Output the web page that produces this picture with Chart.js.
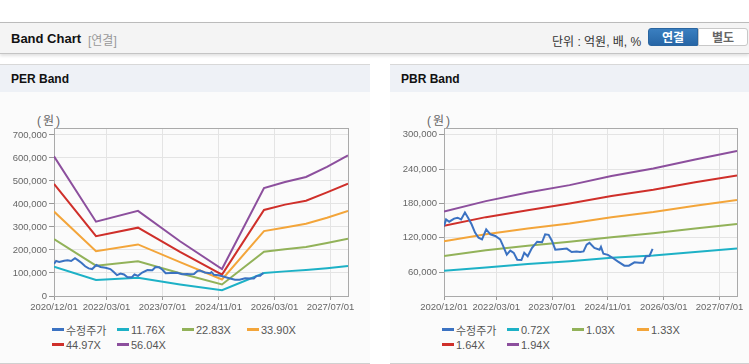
<!DOCTYPE html>
<html>
<head>
<meta charset="utf-8">
<script src="https://cdn.jsdelivr.net/npm/chart.js@4"></script>
<style>
  body { margin: 0; width: 749px; height: 364px; background: #fff; position: relative; overflow: hidden;
         font-family: "Liberation Sans", "Noto Sans CJK KR", sans-serif; }
  .topbar { position: absolute; left: 0; top: 22px; width: 749px; height: 30px; background: #f4f4f4;
            border-top: 1px solid #bbb; border-bottom: 1px solid #c4c4c4; box-shadow: 0 2px 3px rgba(0,0,0,0.12); }
  .topbar .title { position: absolute; left: 11px; top: 8px; font-size: 13px; font-weight: bold; color: #111; }
  .topbar .sub { position: absolute; left: 88px; top: 8px; font-size: 12px; color: #999; }
  .topbar .unit { position: absolute; left: 552px; top: 9px; font-size: 12px; color: #333; }
  .btn { position: absolute; top: 5px; height: 18px; width: 50px; font-size: 12px; font-weight: bold;
         text-align: center; line-height: 18px; box-sizing: border-box; }
  .btn.on { left: 648px; background: linear-gradient(#3a7fc0, #2766a6); color: #fff; border: 1px solid #2a65a0; border-radius: 3px 0 0 3px; }
  .btn.off { left: 698px; background: #fff; color: #666; border: 1px solid #c8c8c8; border-radius: 0 3px 3px 0; }
  .panel { position: absolute; top: 64px; height: 298px; background: #fbfbfb; border-top: 1px solid #d8d8d8; border-bottom: 1px solid #d0d0d0; }
  .panel .head { height: 27px; background: #eef1f6; font-size: 12px; font-weight: bold; color: #111; line-height: 28px; padding-left: 11px; }
  .unitlbl { position: absolute; top: 111px; font-size: 12px; color: #666; letter-spacing: 2px; }
  canvas { position: absolute; }
  .legend { position: absolute; display: grid; grid-template-columns: repeat(4, 65px); grid-auto-rows: 15px;
            font-size: 11px; color: #555; }
  .legend div { display: flex; align-items: center; white-space: nowrap; }
  .legend span.swatch { display: inline-block; width: 12px; height: 3px; margin-right: 2px; }
</style>
</head>
<body>
<div class="topbar">
  <div class="title">Band Chart</div>
  <div class="sub">[연결]</div>
  <div class="unit">단위 : 억원, 배, %</div>
  <div class="btn on">연결</div>
  <div class="btn off">별도</div>
</div>
<div class="panel" style="left:0;width:370px;"><div class="head">PER Band</div></div>
<div class="panel" style="left:390px;width:359px;"><div class="head">PBR Band</div></div>
<div class="unitlbl" style="left:37px;">(원)</div>
<div class="unitlbl" style="left:427px;">(원)</div>
<canvas id="perChart" style="left:0;top:120px;" width="370" height="200"></canvas>
<canvas id="pbrChart" style="left:390px;top:120px;" width="359" height="200"></canvas>
<div class="legend" id="perLegend" style="left:52px;top:322px;"></div>
<div class="legend" id="pbrLegend" style="left:442px;top:322px;"></div>
<script>
// x axis: months since 2020/12
const tickMonths = [0, 15, 31, 47, 63, 79];
const tickLabels = ["2020/12/01", "2022/03/01", "2023/07/01", "2024/11/01", "2026/03/01", "2027/07/01"];

// adjusted price (수정주가)
const priceMonths = [0, 0.6, 1.5, 2.9, 3.9, 4.9, 6.0, 6.9, 7.9, 8.9, 9.9, 10.9, 12.1, 13.3, 14.7, 16.1, 17.0, 18.0,
  19.0, 20.0, 21.0, 22.2, 23.0, 24.0, 25.2, 26.7, 28.1, 29.0, 30.0, 31.0, 31.9, 33.3, 35.2, 36.6, 38.0, 39.0, 40.0,
  40.9, 41.7, 43.1, 44.6, 45.0, 45.7, 47.0, 48.4, 49.8, 51.7, 53.0, 54.6, 56.0, 57.1, 57.9, 58.9, 59.8];
const priceValues = [140000, 152000, 148000, 153500, 155000, 152000, 164000, 155000, 143500, 129000, 120000, 117000,
  134500, 126000, 123000, 117000, 105000, 90500, 97500, 93500, 81500, 81000, 93500, 87500, 102000, 113000, 112000,
  126000, 125000, 114000, 99000, 100000, 101000, 95000, 96000, 95000, 96000, 108000, 111000, 102000, 99000, 104000,
  92000, 90000, 84500, 78500, 71000, 71000, 77000, 76000, 76000, 87500, 88000, 100500];

// PER bands
const perLabels = ["11.76X", "22.83X", "33.90X", "44.97X", "56.04X"];
const perMonths = [0, 12, 24, 36, 48, 60, 66, 72, 78, 84];
const per1176 = [127000, 70000, 79000, 50000, 25000, 100000, 107000, 113000, 121000, 130000];
const per2283 = [247000, 132000, 151000, 99000, 50000, 192000, 203000, 213000, 230000, 249000];
const per3390 = [367000, 195000, 224000, 147000, 72000, 282000, 298000, 314000, 340000, 370000];
const per4497 = [487000, 260000, 297000, 192000, 93000, 374000, 397000, 414000, 450000, 488000];
const per5604 = [607000, 323000, 370000, 238000, 117000, 469000, 495000, 517000, 561000, 611000];
const perTicks = [0, 100000, 200000, 300000, 400000, 500000, 600000, 700000];

// PBR bands
const pbrLabels = ["0.72X", "1.03X", "1.33X", "1.64X", "1.94X"];
const pbrMonths = [0, 12, 24, 36, 48, 60, 72, 84];
const pbr072 = [62000, 68000, 74000, 79000, 85000, 89000, 95000, 101000];
const pbr103 = [88000, 98000, 106000, 113000, 121000, 128000, 136000, 144000];
const pbr133 = [114000, 126000, 136000, 145000, 156000, 165000, 176000, 186000];
const pbr164 = [141000, 156000, 168000, 180000, 193000, 204000, 217000, 229000];
const pbr194 = [166000, 184000, 199000, 212000, 228000, 241000, 257000, 272000];
const pbrTicks = [60000, 120000, 180000, 240000, 300000];

const colors = ["#3b72c2", "#1db1c6", "#92b259", "#f3a53a", "#cf2f2a", "#8c4f9d"];

const toPoints = (xs, ys) => ys.map((y, i) => ({ x: xs[i], y }));

// plot frame
const framePlugin = {
  id: "frame",
  beforeDatasetsDraw(chart) {
    const a = chart.chartArea, ctx = chart.ctx;
    ctx.save();
    ctx.strokeStyle = "#aaaaaa";
    ctx.lineWidth = 1;
    ctx.strokeRect(Math.round(a.left) + 0.5, Math.round(a.top) + 0.5, Math.round(a.right - a.left), Math.round(a.bottom - a.top));
    ctx.restore();
  }
};

function makeChart(id, legendId, bandMonths, bands, labels, yMin, yMax, yTicks, padRight) {
  const datasets = [{ label: "수정주가", data: toPoints(priceMonths, priceValues) }];
  bands.forEach((b, i) => datasets.push({ label: labels[i], data: toPoints(bandMonths, b) }));
  datasets.forEach((d, i) => {
    d.borderColor = colors[i];
    d.backgroundColor = colors[i];
    d.borderWidth = 2;
    d.pointRadius = 0;
    d.tension = 0;
    d.fill = false;
  });

  const tickFont = { family: "'Liberation Sans', sans-serif", size: 9.5 };
  new Chart(document.getElementById(id), {
    type: "line",
    data: { datasets },
    options: {
      responsive: false,
      animation: false,
      layout: { padding: { top: 8, right: padRight, bottom: 0, left: 0 } },
      plugins: { legend: { display: false }, tooltip: { enabled: false } },
      scales: {
        x: {
          type: "linear", min: 0, max: 84,
          afterBuildTicks: s => { s.ticks = tickMonths.map(v => ({ value: v })); },
          afterFit: s => { s.height = 24; },
          ticks: { font: tickFont, color: "#666", padding: 2, maxRotation: 0, autoSkip: false,
                   callback: v => tickLabels[tickMonths.indexOf(v)] },
          grid: { color: "#e4e4e4", tickColor: "#999", tickLength: 4 },
          border: { display: false }
        },
        y: {
          min: yMin, max: yMax,
          afterBuildTicks: s => { s.ticks = yTicks.map(v => ({ value: v })); },
          afterFit: s => { s.width = 54; },
          ticks: { font: tickFont, color: "#666", padding: 2, callback: v => v.toLocaleString("en-US") },
          grid: { color: "#e4e4e4", tickColor: "#999", tickLength: 5 },
          border: { display: false }
        }
      }
    },
    plugins: [framePlugin]
  });

  const legend = document.getElementById(legendId);
  datasets.forEach(d => {
    const item = document.createElement("div");
    item.innerHTML = `<span class="swatch" style="background:${d.borderColor}"></span>${d.label}`;
    legend.appendChild(item);
  });
}

makeChart("perChart", "perLegend", perMonths, [per1176, per2283, per3390, per4497, per5604], perLabels, 0, 730000, perTicks, 22);
makeChart("pbrChart", "pbrLegend", pbrMonths, [pbr072, pbr103, pbr133, pbr164, pbr194], pbrLabels, 18000, 312000, pbrTicks, 12);
</script>
</body>
</html>
